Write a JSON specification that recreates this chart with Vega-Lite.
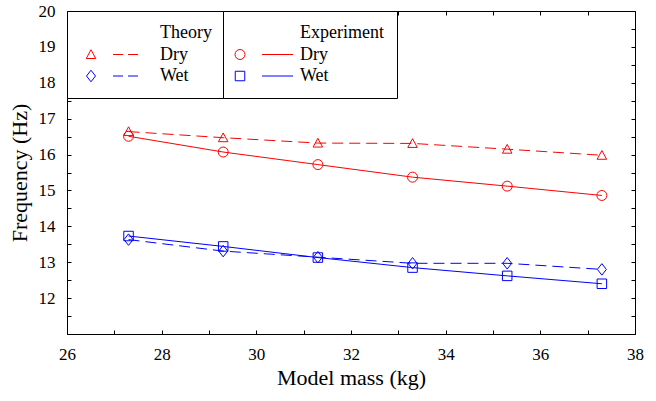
{
  "$schema": "https://vega.github.io/schema/vega-lite/v6.json",
  "width": 568,
  "height": 323,
  "autosize": {"type": "none"},
  "padding": {"left": 67, "top": 11, "right": 21, "bottom": 67},
  "background": "white",
  "config": {
    "font": "Liberation Serif",
    "view": {"stroke": "black", "strokeWidth": 1},
    "axis": {"grid": false, "domain": false, "tickColor": "black", "tickWidth": 1, "labelColor": "black", "titleColor": "black", "labelFont": "Liberation Serif", "titleFont": "Liberation Serif", "titleFontWeight": "normal"}
  },
  "data": {
    "values": [
      {"mass": 27.3, "freq": 16.64, "src": "Theory", "cond": "Dry"},
      {"mass": 29.3, "freq": 16.47, "src": "Theory", "cond": "Dry"},
      {"mass": 31.3, "freq": 16.32, "src": "Theory", "cond": "Dry"},
      {"mass": 33.3, "freq": 16.31, "src": "Theory", "cond": "Dry"},
      {"mass": 35.3, "freq": 16.15, "src": "Theory", "cond": "Dry"},
      {"mass": 37.3, "freq": 15.98, "src": "Theory", "cond": "Dry"},
      {"mass": 27.3, "freq": 13.63, "src": "Theory", "cond": "Wet"},
      {"mass": 29.3, "freq": 13.31, "src": "Theory", "cond": "Wet"},
      {"mass": 31.3, "freq": 13.14, "src": "Theory", "cond": "Wet"},
      {"mass": 33.3, "freq": 12.97, "src": "Theory", "cond": "Wet"},
      {"mass": 35.3, "freq": 12.97, "src": "Theory", "cond": "Wet"},
      {"mass": 37.3, "freq": 12.8, "src": "Theory", "cond": "Wet"},
      {"mass": 27.3, "freq": 16.51, "src": "Experiment", "cond": "Dry"},
      {"mass": 29.3, "freq": 16.07, "src": "Experiment", "cond": "Dry"},
      {"mass": 31.3, "freq": 15.72, "src": "Experiment", "cond": "Dry"},
      {"mass": 33.3, "freq": 15.37, "src": "Experiment", "cond": "Dry"},
      {"mass": 35.3, "freq": 15.12, "src": "Experiment", "cond": "Dry"},
      {"mass": 37.3, "freq": 14.86, "src": "Experiment", "cond": "Dry"},
      {"mass": 27.3, "freq": 13.73, "src": "Experiment", "cond": "Wet"},
      {"mass": 29.3, "freq": 13.44, "src": "Experiment", "cond": "Wet"},
      {"mass": 31.3, "freq": 13.13, "src": "Experiment", "cond": "Wet"},
      {"mass": 33.3, "freq": 12.85, "src": "Experiment", "cond": "Wet"},
      {"mass": 35.3, "freq": 12.62, "src": "Experiment", "cond": "Wet"},
      {"mass": 37.3, "freq": 12.4, "src": "Experiment", "cond": "Wet"}
    ]
  },
  "resolve": {
    "scale": {"color": "independent", "shape": "independent"},
    "axis": {"x": "independent", "y": "independent"}
  },
  "layer": [
    {
      "transform": [{"filter": "datum.src === 'Theory'"}],
      "mark": {"type": "line", "strokeDash": [11, 6], "strokeWidth": 1},
      "encoding": {
        "x": {"field": "mass", "type": "quantitative", "scale": {"domain": [26, 38], "nice": false, "zero": false},
          "axis": {"orient": "bottom", "values": [26, 28, 30, 32, 34, 36, 38], "format": "d", "title": "Model mass (kg)", "ticks": false, "labelPadding": 12, "labelFontSize": 17, "titleFontSize": 22, "titlePadding": 5, "labelFlush": false}},
        "y": {"field": "freq", "type": "quantitative", "scale": {"domain": [11, 20], "nice": false, "zero": false},
          "axis": {"orient": "left", "values": [12, 13, 14, 15, 16, 17, 18, 19, 20], "format": "d", "title": "Frequency (Hz)", "ticks": false, "labelPadding": 12, "labelFontSize": 17, "titleFontSize": 22, "titlePadding": 7, "labelFlush": false}},
        "color": {"field": "cond", "type": "nominal", "scale": {"domain": ["Dry", "Wet"], "range": ["red", "blue"]}, "legend": null}
      }
    },
    {
      "transform": [{"filter": "datum.src === 'Theory'"}],
      "mark": {"type": "point", "filled": false, "size": 100, "strokeWidth": 1, "opacity": 1},
      "encoding": {
        "x": {"field": "mass", "type": "quantitative", "scale": {"domain": [26, 38], "nice": false, "zero": false},
          "axis": {"orient": "top", "offset": -323, "values": [26, 27, 28, 29, 30, 31, 32, 33, 34, 35, 36, 37, 38], "labels": false, "title": null, "tickSize": 4}},
        "y": {"field": "freq", "type": "quantitative", "scale": {"domain": [11, 20], "nice": false, "zero": false},
          "axis": {"orient": "right", "offset": -568, "values": [11, 11.5, 12, 12.5, 13, 13.5, 14, 14.5, 15, 15.5, 16, 16.5, 17, 17.5, 18, 18.5, 19, 19.5, 20], "labels": false, "title": null, "tickSize": 4}},
        "color": {"field": "cond", "type": "nominal", "scale": {"domain": ["Dry", "Wet"], "range": ["red", "blue"]}, "legend": null},
        "shape": {"field": "cond", "type": "nominal", "scale": {"domain": ["Dry", "Wet"], "range": ["M0,-0.95L0.95,0.8L-0.95,0.8Z", "M0,-1.15L0.9,0L0,1.15L-0.9,0Z"]}, "legend": null}
      }
    },
    {
      "transform": [{"filter": "datum.src === 'Experiment'"}],
      "mark": {"type": "line", "strokeWidth": 1},
      "encoding": {
        "x": {"field": "mass", "type": "quantitative", "scale": {"domain": [26, 38], "nice": false, "zero": false},
          "axis": {"orient": "bottom", "offset": -323, "values": [26, 27, 28, 29, 30, 31, 32, 33, 34, 35, 36, 37, 38], "labels": false, "title": null, "tickSize": 4}},
        "y": {"field": "freq", "type": "quantitative", "scale": {"domain": [11, 20], "nice": false, "zero": false},
          "axis": {"orient": "left", "offset": -568, "values": [11, 11.5, 12, 12.5, 13, 13.5, 14, 14.5, 15, 15.5, 16, 16.5, 17, 17.5, 18, 18.5, 19, 19.5, 20], "labels": false, "title": null, "tickSize": 4}},
        "color": {"field": "cond", "type": "nominal", "scale": {"domain": ["Dry", "Wet"], "range": ["red", "blue"]}, "legend": null}
      }
    },
    {
      "transform": [{"filter": "datum.src === 'Experiment'"}],
      "mark": {"type": "point", "filled": false, "size": 100, "strokeWidth": 1, "opacity": 1},
      "encoding": {
        "x": {"field": "mass", "type": "quantitative", "scale": {"domain": [26, 38], "nice": false, "zero": false}, "axis": null},
        "y": {"field": "freq", "type": "quantitative", "scale": {"domain": [11, 20], "nice": false, "zero": false}, "axis": null},
        "color": {"field": "cond", "type": "nominal", "scale": {"domain": ["Dry", "Wet"], "range": ["red", "blue"]}, "legend": null},
        "shape": {"field": "cond", "type": "nominal", "scale": {"domain": ["Dry", "Wet"], "range": ["M-1,0A1,1,0,1,0,1,0A1,1,0,1,0,-1,0Z", "M-0.95,-0.95L0.95,-0.95L0.95,0.95L-0.95,0.95Z"]}, "legend": null}
      }
    },
    {
      "transform": [{"filter": "false"}],
      "mark": {"type": "point", "filled": false, "size": 100, "strokeWidth": 1, "opacity": 1},
      "encoding": {
        "x": {"field": "mass", "type": "quantitative", "scale": {"domain": [26, 38], "nice": false, "zero": false}, "axis": null},
        "y": {"field": "freq", "type": "quantitative", "scale": {"domain": [11, 20], "nice": false, "zero": false}, "axis": null},
        "color": {"field": "cond", "type": "nominal", "scale": {"domain": ["Theory", "Dry", "Wet"], "range": ["black", "red", "blue"]},
          "legend": {"orient": "none", "legendX": 0, "legendY": 0, "title": null, "padding": 13, "strokeColor": "black", "fillColor": "white", "symbolSize": 100, "symbolStrokeWidth": 1, "labelFont": "Liberation Serif", "labelFontSize": 18, "labelColor": "black", "rowPadding": 3.5, "symbolOffset": 2, "labelOffset": 60, "labelLimit": 200}},
        "shape": {"field": "cond", "type": "nominal", "scale": {"domain": ["Theory", "Dry", "Wet"], "range": ["M0,0", "M0,-0.95L0.95,0.8L-0.95,0.8ZM4.4,0L6.4,0M7.4,0L9.4,0", "M0,-1.15L0.9,0L0,1.15L-0.9,0ZM4.4,0L6.4,0M7.4,0L9.4,0"]},
          "legend": {"orient": "none", "legendX": 0, "legendY": 0, "title": null, "padding": 13, "strokeColor": "black", "fillColor": "white", "symbolSize": 100, "symbolStrokeWidth": 1, "labelFont": "Liberation Serif", "labelFontSize": 18, "labelColor": "black", "rowPadding": 3.5, "symbolOffset": 2, "labelOffset": 60, "labelLimit": 200}}
      }
    },
    {
      "transform": [{"filter": "false"}],
      "mark": {"type": "point", "filled": false, "size": 100, "strokeWidth": 1, "opacity": 1},
      "encoding": {
        "x": {"field": "mass", "type": "quantitative", "scale": {"domain": [26, 38], "nice": false, "zero": false}, "axis": null},
        "y": {"field": "freq", "type": "quantitative", "scale": {"domain": [11, 20], "nice": false, "zero": false}, "axis": null},
        "color": {"field": "cond", "type": "nominal", "scale": {"domain": ["Experiment", "Dry", "Wet"], "range": ["black", "red", "blue"]},
          "legend": {"orient": "none", "legendX": 156, "legendY": 0, "title": null, "padding": 13, "strokeColor": "black", "fillColor": "white", "symbolSize": 100, "symbolStrokeWidth": 1, "labelFont": "Liberation Serif", "labelFontSize": 18, "labelColor": "black", "rowPadding": 3.5, "symbolOffset": -5, "labelOffset": 51, "labelLimit": 200}},
        "shape": {"field": "cond", "type": "nominal", "scale": {"domain": ["Experiment", "Dry", "Wet"], "range": ["M0,0", "M-1,0A1,1,0,1,0,1,0A1,1,0,1,0,-1,0ZM4.4,0L10.6,0", "M-0.95,-0.95L0.95,-0.95L0.95,0.95L-0.95,0.95ZM4.4,0L10.6,0"]},
          "legend": {"orient": "none", "legendX": 156, "legendY": 0, "title": null, "padding": 13, "strokeColor": "black", "fillColor": "white", "symbolSize": 100, "symbolStrokeWidth": 1, "labelFont": "Liberation Serif", "labelFontSize": 18, "labelColor": "black", "rowPadding": 3.5, "symbolOffset": -5, "labelOffset": 51, "labelLimit": 200}}
      }
    }
  ]
}
